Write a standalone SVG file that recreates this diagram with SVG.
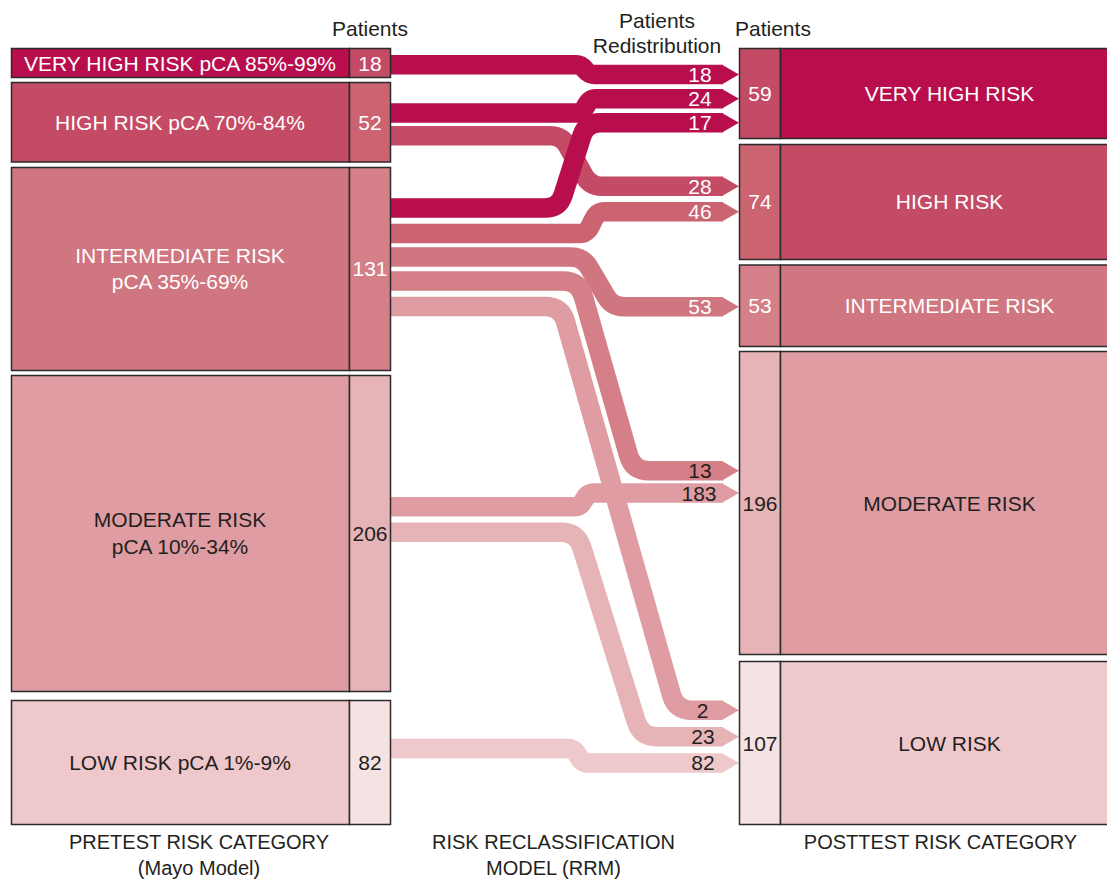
<svg xmlns="http://www.w3.org/2000/svg" width="1107" height="879" viewBox="0 0 1107 879">
<style>
text{font-family:"Liberation Sans",Arial,sans-serif;font-size:21px}
.w{fill:#fff}.d{fill:#231F20}
.m{text-anchor:middle}
.box{stroke:#2b2b2b;stroke-width:1.5}
.flow{fill:none;stroke-width:19.5}
.cap{font-size:20px;fill:#231F20;text-anchor:middle}
.c1{fill:#B80E4D}.c2{fill:#C44B65}.c3{fill:#CB6370}.c4{fill:#CF7680}.c5{fill:#D57F88}.c6{fill:#DF9DA3}.c7{fill:#E6B4B7}.c8{fill:#EFC8CC}.c9{fill:#F5E2E3}
.s1{stroke:#B80E4D}.s2{stroke:#C44B65}.s3{stroke:#CB6370}.s4{stroke:#CF7680}.s5{stroke:#D57F88}.s6{stroke:#DF9DA3}.s7{stroke:#E6B4B7}.s8{stroke:#EFC8CC}
</style>
<rect width="1107" height="879" fill="#fff"/>
<g id="connectors">
<g id="f18"><path class="flow s1" d="M391,64.8 H576 C586,64.8 584,74.5 594,74.5 H723"/><polygon class="c1" points="722,64.75 739,74.5 722,84.25"/></g>
<g id="f24"><path class="flow s1" d="M391,113 H576 C588,113 584,98.8 596,98.8 H723"/><polygon class="c1" points="722,89.05 739,98.8 722,108.55"/></g>
<g id="f28"><path class="flow s2" d="M391,135.8 H550 Q562,135.8 567.8,146.3 L584.2,175.8 Q590,186.3 602,186.3 H723"/><polygon class="c2" points="722,176.55 739,186.3 722,196.05"/></g>
<g id="f17"><path class="flow s1" d="M391,208 H545 Q559,208 563.2,194.7 L581.8,136.1 Q586,122.8 600,122.8 H723"/><polygon class="c1" points="722,113.05 739,122.8 722,132.55"/></g>
<g id="f46"><path class="flow s3" d="M391,233.5 H580 C594,233.5 590,211.7 604,211.7 H723"/><polygon class="c3" points="722,201.95 739,211.7 722,221.45"/></g>
<g id="f53"><path class="flow s4" d="M391,257 H571 Q583,257 589,267.4 L606,296.3 Q612,306.7 624,306.7 H723"/><polygon class="c4" points="722,296.95 739,306.7 722,316.45"/></g>
<g id="f13"><path class="flow s5" d="M391,281 H562.9 Q578.9,281 583.3,296.4 L628.6,455.3 Q633,470.7 649,470.7 H723"/><polygon class="c5" points="722,460.95 739,470.7 722,480.45"/></g>
<g id="f183"><path class="flow s6" d="M391,506.8 H574 C586,506.8 582,493 594,493 H723"/><polygon class="c6" points="722,483.25 739,493 722,502.75"/></g>
<g id="f2"><path class="flow s6" d="M391,306.5 H545.2 Q561.2,306.5 565.6,321.9 L671.5,694.9 Q675.9,710.3 691.9,710.3 H723"/><polygon class="c6" points="722,700.55 739,710.3 722,720.05"/></g>
<g id="f23"><path class="flow s7" d="M391,532.2 H561 Q577,532.2 581.8,547.5 L636.2,721.4 Q641,736.7 657,736.7 H723"/><polygon class="c7" points="722,726.95 739,736.7 722,746.45"/></g>
<g id="f82"><path class="flow s8" d="M391,748.5 H568 C580,748.5 576,763 588,763 H723"/><polygon class="c8" points="722,753.25 739,763 722,772.75"/></g>
<g id="flow-labels">
<text class="w m" x="700" y="81.5">18</text>
<text class="w m" x="700" y="106">24</text>
<text class="w m" x="700" y="130">17</text>
<text class="w m" x="700" y="194">28</text>
<text class="w m" x="700" y="219">46</text>
<text class="w m" x="700" y="314">53</text>
<text class="d m" x="700" y="478">13</text>
<text class="d m" x="699" y="500.5">183</text>
<text class="d m" x="702.5" y="717.8">2</text>
<text class="d m" x="703" y="744">23</text>
<text class="d m" x="703" y="770">82</text>
</g>
</g>
<g id="headers">
<text class="d" x="332" y="36">Patients</text>
<text class="d m" x="657" y="28.3">Patients</text>
<text class="d m" x="657" y="53.3">Redistribution</text>
<text class="d" x="735" y="36">Patients</text>
</g>
<g id="pre-very-high">
<rect class="box c1" x="11.5" y="48.5" width="338" height="29"/>
<rect class="box c2" x="349.5" y="48.5" width="41" height="29"/>
<text class="w m" x="180" y="70.5">VERY HIGH RISK pCA 85%-99%</text>
<text class="w m" x="370" y="70.5">18</text>
</g>
<g id="pre-high">
<rect class="box c2" x="11.5" y="82.5" width="338" height="79.5"/>
<rect class="box c3" x="349.5" y="82.5" width="41" height="79.5"/>
<text class="w m" x="180" y="129.5">HIGH RISK pCA 70%-84%</text>
<text class="w m" x="370" y="129.5">52</text>
</g>
<g id="pre-intermediate">
<rect class="box c4" x="11.5" y="167.5" width="338" height="203"/>
<rect class="box c5" x="349.5" y="167.5" width="41" height="203"/>
<text class="w m" x="180" y="262.5">INTERMEDIATE RISK</text>
<text class="w m" x="180" y="289">pCA 35%-69%</text>
<text class="w m" x="370" y="276">131</text>
</g>
<g id="pre-moderate">
<rect class="box c6" x="11.5" y="375.5" width="338" height="316"/>
<rect class="box c7" x="349.5" y="375.5" width="41" height="316"/>
<text class="d m" x="180" y="527">MODERATE RISK</text>
<text class="d m" x="180" y="553.5">pCA 10%-34%</text>
<text class="d m" x="370" y="541">206</text>
</g>
<g id="pre-low">
<rect class="box c8" x="11.5" y="700.5" width="338" height="124"/>
<rect class="box c9" x="349.5" y="700.5" width="41" height="124"/>
<text class="d m" x="180" y="770">LOW RISK pCA 1%-9%</text>
<text class="d m" x="370" y="770">82</text>
</g>
<g id="post-very-high">
<rect class="box c2" x="739.5" y="48.5" width="41" height="90"/>
<rect class="box c1" x="780.5" y="48.5" width="340" height="90"/>
<text class="w m" x="760" y="101">59</text>
<text class="w m" x="949.5" y="101">VERY HIGH RISK</text>
</g>
<g id="post-high">
<rect class="box c3" x="739.5" y="144.5" width="41" height="115"/>
<rect class="box c2" x="780.5" y="144.5" width="340" height="115"/>
<text class="w m" x="760" y="208.5">74</text>
<text class="w m" x="949.5" y="208.5">HIGH RISK</text>
</g>
<g id="post-intermediate">
<rect class="box c5" x="739.5" y="265" width="41" height="81.5"/>
<rect class="box c4" x="780.5" y="265" width="340" height="81.5"/>
<text class="w m" x="760" y="313">53</text>
<text class="w m" x="949.5" y="313">INTERMEDIATE RISK</text>
</g>
<g id="post-moderate">
<rect class="box c7" x="739.5" y="351.5" width="41" height="303"/>
<rect class="box c6" x="780.5" y="351.5" width="340" height="303"/>
<text class="d m" x="760" y="510.5">196</text>
<text class="d m" x="949.5" y="510.5">MODERATE RISK</text>
</g>
<g id="post-low">
<rect class="box c9" x="739.5" y="661.5" width="41" height="163"/>
<rect class="box c8" x="780.5" y="661.5" width="340" height="163"/>
<text class="d m" x="760" y="750.5">107</text>
<text class="d m" x="949.5" y="750.5">LOW RISK</text>
</g>
<g id="captions">
<text class="cap" x="199" y="849">PRETEST RISK CATEGORY</text>
<text class="cap" x="199" y="875">(Mayo Model)</text>
<text class="cap" x="553.5" y="849">RISK RECLASSIFICATION</text>
<text class="cap" x="553.5" y="875">MODEL (RRM)</text>
<text class="cap" x="940.5" y="849">POSTTEST RISK CATEGORY</text>
</g>
</svg>
